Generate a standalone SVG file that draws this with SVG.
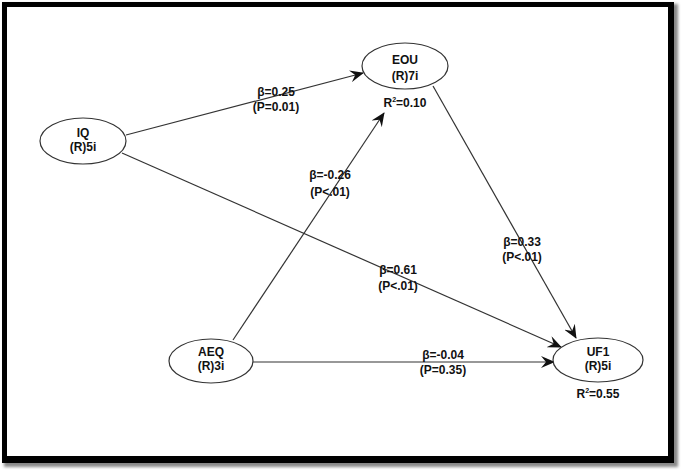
<svg xmlns="http://www.w3.org/2000/svg" width="685" height="473" viewBox="0 0 685 473">
<defs>
<marker id="arr" viewBox="0 0 14 12" refX="13" refY="6" markerWidth="14" markerHeight="12" markerUnits="userSpaceOnUse" orient="auto">
<path d="M0,0 L14,6 L0,12 L5,6 z" fill="#111"/>
</marker>
<filter id="sh" x="-5%" y="-5%" width="110%" height="110%"><feGaussianBlur stdDeviation="1.5"/></filter>
</defs>
<style>
.nd{fill:#fff;stroke:#333;stroke-width:1.2}
.t{font-family:"Liberation Sans",Arial,sans-serif;font-weight:bold;font-size:12px;fill:#111;text-anchor:middle}
.e{stroke:#333;stroke-width:1.2;fill:none;marker-end:url(#arr)}
</style>
<rect x="0" y="0" width="685" height="473" fill="#fff"/>
<rect x="4" y="4" width="674" height="463" fill="#888" filter="url(#sh)"/>
<rect x="2" y="2" width="672" height="461" fill="#000"/>
<rect x="7" y="7" width="661" height="449" fill="#fff"/>
<g id="connectors">
<line class="e" x1="126" y1="135" x2="363" y2="73"/>
<line class="e" x1="122" y1="153" x2="561" y2="347"/>
<line class="e" x1="233" y1="340" x2="384" y2="113"/>
<line class="e" x1="433" y1="86" x2="576" y2="338"/>
<line class="e" x1="253" y1="362" x2="554" y2="362"/>
<g id="labels">
<text class="t" x="276" y="96">β=0.25</text>
<text class="t" x="276" y="111">(P=0.01)</text>
<text class="t" x="330" y="179">β=-0.26</text>
<text class="t" x="330" y="196">(P&lt;.01)</text>
<text class="t" x="398" y="274">β=0.61</text>
<text class="t" x="398" y="290">(P&lt;.01)</text>
<text class="t" x="522" y="246">β=0.33</text>
<text class="t" x="522" y="261">(P&lt;.01)</text>
<text class="t" x="443" y="359">β=-0.04</text>
<text class="t" x="443" y="374">(P=0.35)</text>
</g>
</g>
<g id="EOU">
<ellipse class="nd" cx="405" cy="66" rx="43" ry="23"/>
<text class="t" x="405" y="64">EOU</text>
<text class="t" x="405" y="80">(R)7i</text>
<text class="t" x="405" y="107">R<tspan font-size="7" dy="-5">2</tspan><tspan dy="5">=0.10</tspan></text>
</g>
<g id="IQ">
<ellipse class="nd" cx="83" cy="141" rx="43" ry="23"/>
<text class="t" x="83" y="137">IQ</text>
<text class="t" x="83" y="151">(R)5i</text>
</g>
<g id="AEQ">
<ellipse class="nd" cx="211" cy="361" rx="42" ry="22"/>
<text class="t" x="211" y="356">AEQ</text>
<text class="t" x="211" y="370">(R)3i</text>
</g>
<g id="UF1">
<ellipse class="nd" cx="598" cy="360" rx="45" ry="22"/>
<text class="t" x="598" y="356">UF1</text>
<text class="t" x="598" y="370">(R)5i</text>
<text class="t" x="598" y="398">R<tspan font-size="7" dy="-5">2</tspan><tspan dy="5">=0.55</tspan></text>
</g>
</svg>
